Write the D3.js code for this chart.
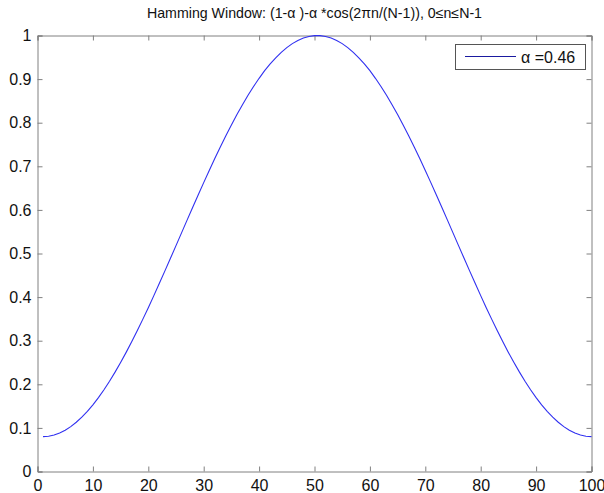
<!DOCTYPE html>
<html>
<head>
<style>
  body { margin: 0; background: #fff; }
  text { font-family: "Liberation Sans", Arial, sans-serif; fill: #111; }
</style>
</head>
<body>
<script src="https://d3js.org/d3.v7.min.js"></script>
<script>
// Hamming window values, N = 100, plotted at x = 1..100
const halfWindow = [
  0.0800, 0.0809, 0.0837, 0.0883, 0.0947, 0.1030, 0.1130, 0.1247, 0.1380, 0.1530,
  0.1696, 0.1876, 0.2071, 0.2279, 0.2500, 0.2732, 0.2975, 0.3228, 0.3489, 0.3758,
  0.4034, 0.4316, 0.4601, 0.4890, 0.5181, 0.5473, 0.5765, 0.6055, 0.6342, 0.6626,
  0.6904, 0.7177, 0.7443, 0.7700, 0.7948, 0.8186, 0.8413, 0.8628, 0.8830, 0.9018,
  0.9193, 0.9347, 0.9489, 0.9614, 0.9723, 0.9814, 0.9887, 0.9942, 0.9979, 0.9998
]
const windowValues = halfWindow.concat(halfWindow.slice().reverse())
const xValues = windowValues.map((d, i) => i + 1)

const xTicks = [0, 10, 20, 30, 40, 50, 60, 70, 80, 90, 100]
const yTicks = [0, 0.1, 0.2, 0.3, 0.4, 0.5, 0.6, 0.7, 0.8, 0.9, 1]
const legendLabel = "α =0.46"

const w = 604
const h = 493
const plotLeft = 37.5, plotRight = 591.5, plotTop = 35.5, plotBottom = 471.5

const svg = d3.select("body").append("svg").attr("width", w).attr("height", h)

const xScale = d3.scaleLinear().domain([0, 100]).range([plotLeft, plotRight])
const yScale = d3.scaleLinear().domain([0, 1]).range([plotBottom, plotTop])

const axisColor = "#808080"

// axes (ticks inward)
const xAxis = d3.axisBottom(xScale).tickValues(xTicks).tickSize(-5).tickPadding(8).tickFormat(d3.format("d"))
const yAxis = d3.axisLeft(yScale).tickValues(yTicks).tickSize(-5).tickPadding(6).tickFormat(d => d === 0 || d === 1 ? d : d3.format(".1f")(d))
const xTop = d3.axisTop(xScale).tickValues(xTicks).tickSize(-5).tickFormat("")
const yRight = d3.axisRight(yScale).tickValues(yTicks).tickSize(-5).tickFormat("")

function styleAxis(g) {
  g.select(".domain").attr("stroke", axisColor)
  g.selectAll(".tick line").attr("stroke", axisColor)
  g.selectAll(".tick text").attr("font-size", 16).attr("font-family", "Liberation Sans, Arial, sans-serif").attr("fill", "#111")
}

svg.append("g").attr("transform", "translate(0," + plotBottom + ")").call(xAxis).call(styleAxis)
svg.append("g").attr("transform", "translate(" + plotLeft + ",0)").call(yAxis).call(styleAxis)
svg.append("g").attr("transform", "translate(0," + plotTop + ")").call(xTop).call(styleAxis)
svg.append("g").attr("transform", "translate(" + plotRight + ",0)").call(yRight).call(styleAxis)

// curve
const line = d3.line().x((d, i) => xScale(xValues[i])).y(d => yScale(d))
svg.append("path").datum(windowValues)
  .attr("d", line)
  .attr("fill", "none")
  .attr("stroke", "#3030f0")
  .attr("stroke-width", 1.1)

// title
svg.append("text")
  .attr("x", (plotLeft + plotRight) / 2)
  .attr("y", 18)
  .attr("text-anchor", "middle")
  .attr("font-size", 14.2)
  .text("Hamming Window: (1-α )-α *cos(2πn/(N-1)), 0≤n≤N-1")

// legend
const lg = svg.append("g")
lg.append("rect")
  .attr("x", 455.5).attr("y", 44.5).attr("width", 130).attr("height", 25)
  .attr("fill", "#fff").attr("stroke", "#555")
lg.append("line")
  .attr("x1", 465).attr("x2", 516).attr("y1", 56.5).attr("y2", 56.5)
  .attr("stroke", "#1a1aa0").attr("stroke-width", 1.2)
lg.append("text")
  .attr("x", 521).attr("y", 62.5)
  .attr("font-size", 16)
  .text(legendLabel)
</script>
</body>
</html>
